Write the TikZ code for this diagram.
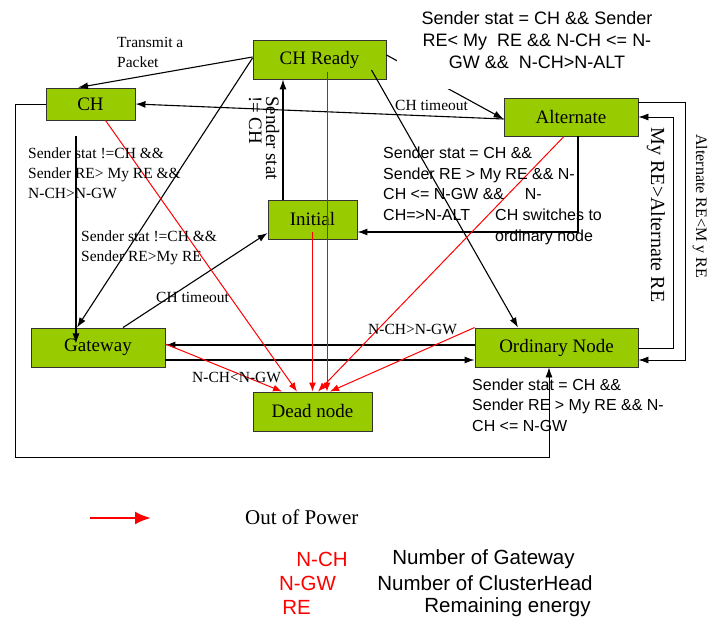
\documentclass[tikz,border=0pt]{standalone}
\usepackage{fontspec}
\setmainfont{Liberation Serif}
\setsansfont{Liberation Sans}
\usepackage{xcolor}
\usetikzlibrary{arrows.meta}
\definecolor{boxgreen}{HTML}{99CC00}

\begin{document}
\begin{tikzpicture}[x=1pt, y=-1pt,
		stbox/.style={draw=black!80, line width=0.9pt, fill=boxgreen, inner sep=0pt, font=\fontsize{19}{22}\selectfont},
		arr/.style={-{Latex[length=10pt,width=7pt]}, line width=1.1pt},
		pwr/.style={-{Latex[length=9pt,width=7pt]}, red, line width=1pt},
		wire/.style={-{Latex[length=10pt,width=7pt]}, line width=0.8pt},
		lbl/.style={font=\fontsize{15.5}{20}\selectfont, align=left, inner sep=0pt, anchor=west},
		slbl/.style={font=\sffamily\fontsize{16}{20.5}\selectfont, align=left, inner sep=0pt, anchor=west},
		legkey/.style={font=\sffamily\fontsize{20.5}{24}\selectfont, red, inner sep=0pt},
		legtxt/.style={font=\sffamily\fontsize{20.5}{24}\selectfont, inner sep=0pt}]
		\path[use as bounding box, fill=white] (0,0) rectangle (718,620);
		% States
		\node[stbox, minimum width=89pt, minimum height=32pt] (CH) at (90.5,104) {CH};
		\node[stbox, minimum width=133pt, minimum height=39pt] (CHReady) at (319.5,59.5) {CH Ready};
		\node[stbox, minimum width=134pt, minimum height=38pt] (Alternate) at (571,117) {Alternate};
		\node[stbox, minimum width=89pt, minimum height=39pt] (Initial) at (312.5,219.5) {Initial};
		\node[stbox, minimum width=134pt, minimum height=39pt] (Gateway) at (98,347.5) {Gateway};
		\node[stbox, minimum width=119pt, minimum height=39pt] (Dead) at (312.5,411.5) {Dead node};
		\node[stbox, minimum width=163pt, minimum height=39pt] (Ordinary) at (556.5,347.5) {Ordinary Node};
		% Transitions
		\draw[arr] ([yshift=2.5pt]CHReady.west) -- ([xshift=-12.5pt]CH.north);
		\draw[arr] ([yshift=1.5pt]CHReady.west) -- ([xshift=-21pt]Gateway.north);
		\draw[arr] ([xshift=-14.5pt,yshift=-16pt]CH.south) -- ([xshift=-22pt,yshift=4pt]Gateway.center);
		\draw[arr] ([xshift=-29.5pt]Initial.north) -- ([xshift=-36.5pt]CHReady.south);
		\draw[arr] ([yshift=-2pt]Alternate.west) -- (CH.east);
		\draw[arr] ([yshift=4.5pt]CHReady.east) -- ([yshift=-2pt]Alternate.west);
		\draw[arr] ([xshift=52pt,yshift=-10.5pt]CHReady.center) -- ([xshift=-38.5pt]Ordinary.north);
		\draw[arr] ([xshift=7pt]Alternate.south) |- ([yshift=-12.5pt]Initial.east);
		\draw[arr] ([xshift=25pt]Gateway.north) -- ([yshift=-13.5pt]Initial.west);
		\draw[arr] ([yshift=2.5pt]Ordinary.west) -- ([yshift=2.5pt]Gateway.east);
		\draw[arr] ([yshift=-12.5pt]Gateway.east) -- ([yshift=-12.5pt]Ordinary.west);
		% Wires round the outside
		\draw[wire] (CH.west) -- ++(-30,0) |- ([xshift=-7.5pt,yshift=-90pt]Ordinary.south) -- ([xshift=-7.5pt]Ordinary.south);
		\draw[wire] ([yshift=15pt]Alternate.east) -- ++(47,0) |- ([yshift=-12.5pt]Ordinary.east);
		\draw[wire] ([yshift=-0.5pt]Ordinary.east) -- ++(35,0) |- (Alternate.east);
		% Out of power
		\draw[pwr] ([xshift=15pt]CH.south) -- ([xshift=-15.5pt]Dead.north);
		\draw[pwr] ([xshift=7.5pt,yshift=-12.5pt]CHReady.center) -- ([xshift=14.5pt]Dead.north);
		\draw[pwr] ([yshift=-12.5pt]Initial.center) -- (Dead.north);
		\draw[pwr] ([xshift=-7pt]Alternate.south) -- ([xshift=5.5pt]Dead.north);
		\draw[pwr] (Ordinary.north west) -- ([xshift=17.5pt]Dead.north);
		\draw[pwr] ([yshift=3.5pt]Gateway.east) -- ([xshift=-30.5pt]Dead.north);
		% Labels
		\node[lbl] (tTransmit) at (117,52) {Transmit a\\Packet};
		\node[lbl] (tCHGw) at (28,173) {Sender stat !=CH \&\&\\Sender RE> My RE \&\&\\N-CH>N-GW};
		\node[lbl] (tReadyGw) at (81,248) {Sender stat !=CH \&\&\\Sender RE>My RE};
		\node[lbl] (tGwTime) at (156,297) {CH timeout};
		\node[lbl] (tAltTime) at (395,105) {CH timeout};
		\node[lbl] (tOrdGw) at (368,329) {N-CH>N-GW};
		\node[lbl] (tGwOrd) at (192,377) {N-CH<N-GW};
		\node[lbl, anchor=center, rotate=-90, font=\fontsize{19}{17}\selectfont] (tNotCH) at (264,138) {Sender stat\\!= CH};
		\node[slbl, anchor=center, align=center, font=\sffamily\fontsize{18}{21.6}\selectfont, fill=white, minimum width=280pt, minimum height=98pt] (tTop) at (537,40) {Sender stat = CH \&\& Sender\\RE< My\ \ RE \&\& N-CH <= N-\\GW \&\&\ \ N-CH>N-ALT};
		\node[slbl] (tAltInit) at (383,184) {Sender stat = CH \&\&\\Sender RE > My RE \&\& N-\\CH <= N-GW \&\&\hspace{1.3em}N-\\CH=>N-ALT};
		\node[slbl] (tSwitch) at (495,227) {CH switches to\\ordinary node};
		\node[slbl] (tOrdBelow) at (472,405) {Sender stat = CH \&\&\\Sender RE > My RE \&\& N-\\CH <= N-GW};
		\node[inner sep=0pt, rotate=-90, font=\fontsize{20}{24}\selectfont] (tMyRE) at (656,215) {My RE>Alternate RE};
		\node[inner sep=0pt, rotate=-90, font=\fontsize{16}{20}\selectfont] (tAltRE) at (700,206) {Alternate RE<M y RE};
		% Legend
		\coordinate (powS) at (90,518);
		\coordinate (powE) at (151,518);
		\draw[-{Latex[length=16pt,width=13pt]}, red, line width=2.5pt] (powS) -- (powE);
		\node[inner sep=0pt, anchor=west, font=\fontsize{21}{24}\selectfont] (tPower) at (245,517) {Out of Power};
		\node[legkey] (kNCH) at (322,559) {N-CH};
		\node[legkey] (kNGW) at (307.5,583) {N-GW};
		\node[legkey] (kRE) at (296.5,607) {RE};
		\node[legtxt] (dNCH) at (483.5,559) {Number of Gateway};
		\node[legtxt] (dNGW) at (485,583) {Number of ClusterHead};
		\node[legtxt] (dRE) at (507.5,607) {Remaining energy};
	\end{tikzpicture}
\end{document}
